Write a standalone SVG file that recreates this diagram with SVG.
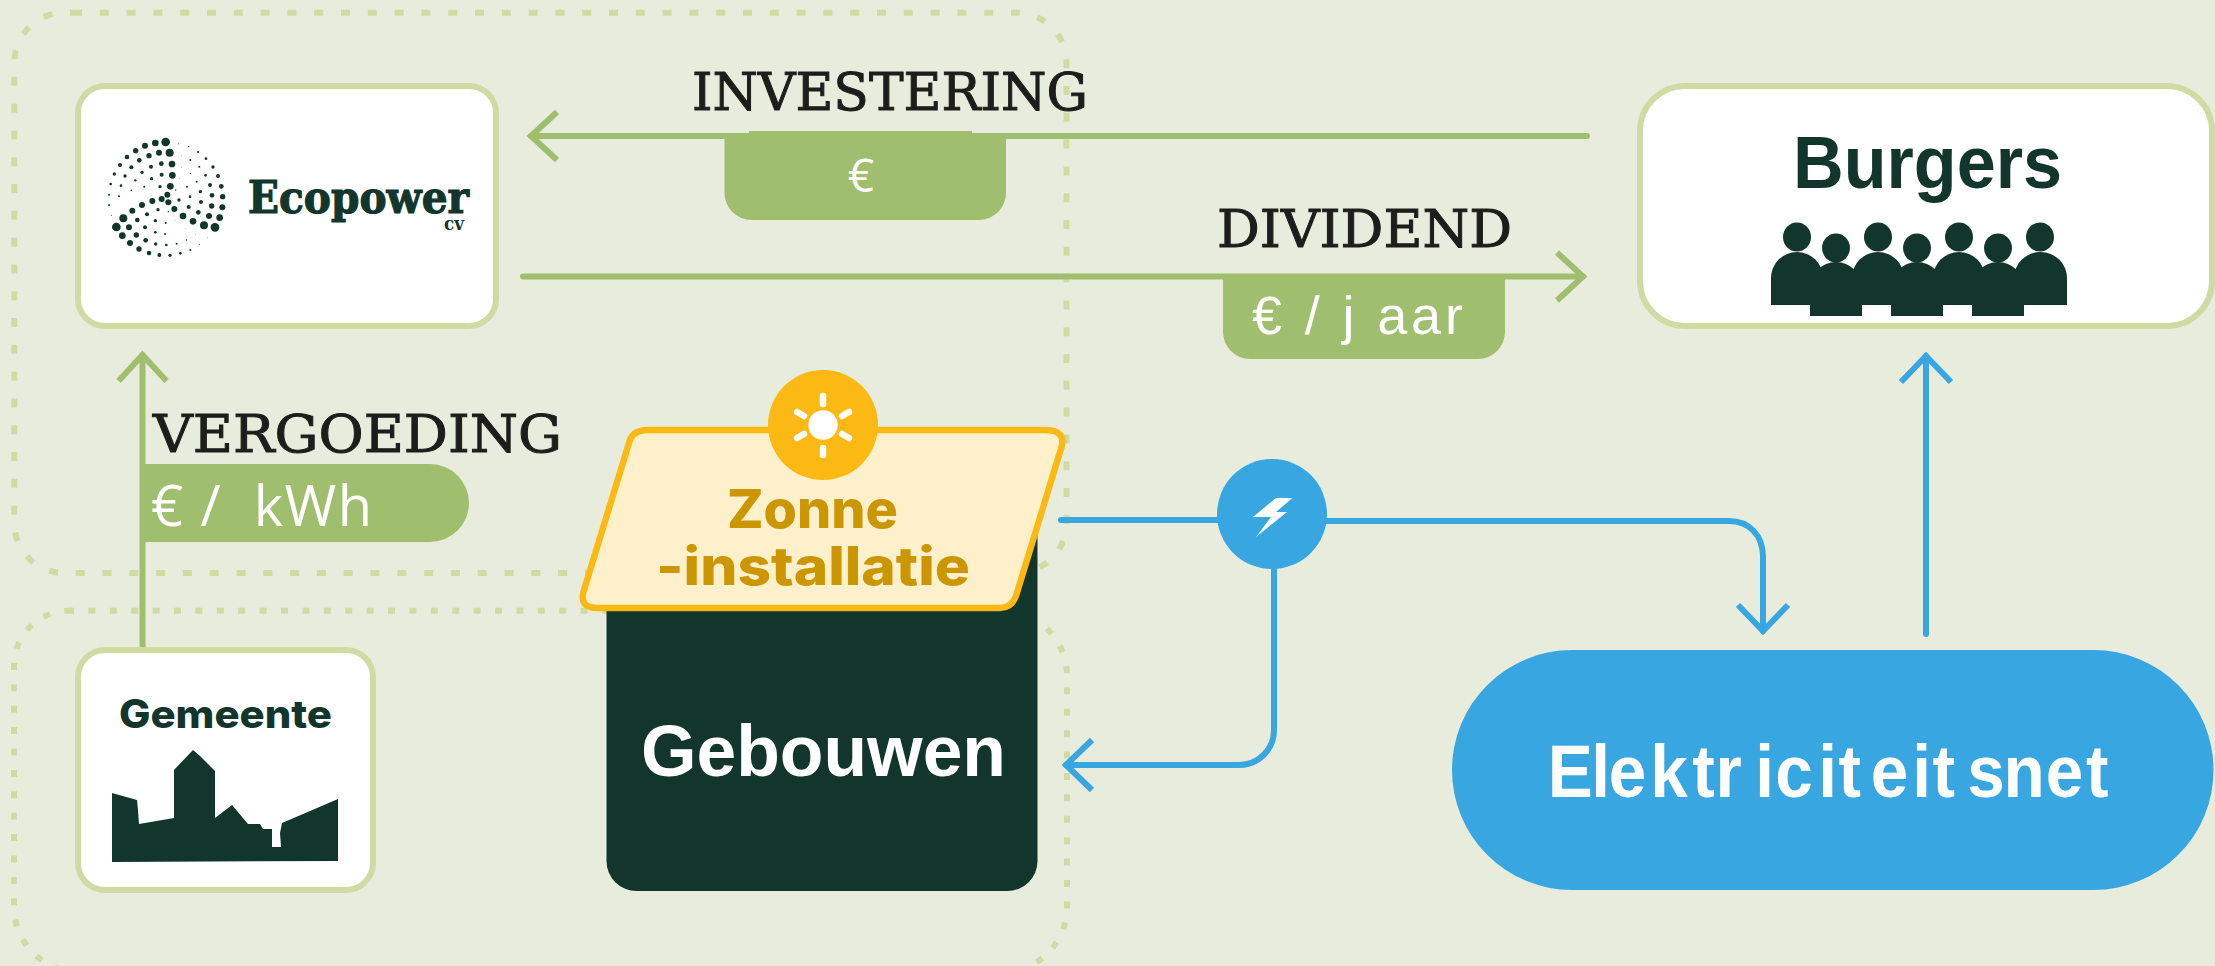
<svg xmlns="http://www.w3.org/2000/svg" width="2215" height="966" viewBox="0 0 2215 966">
<style>
.card{fill:#fff;stroke:#cfdba3;stroke-width:6}
.ink{fill:#12362b}
.slab{font-family:"DejaVu Serif","Liberation Serif",serif;font-size:52px;fill:#1d1d1b;stroke:#1d1d1b;stroke-width:1}
.bold{font-family:"Liberation Sans",Arial,sans-serif;font-weight:700}
.geo{font-family:Inter,"Liberation Sans",sans-serif;font-weight:800}
.price{font-family:"Liberation Sans",Arial,sans-serif;fill:#fff;font-size:54px}
.pill{fill:#9fbf6e}
.green{fill:none;stroke:#9fbf6e;stroke-width:6;stroke-linecap:round}
.blue{fill:none;stroke:#38a6e0;stroke-width:6;stroke-linecap:round}
.ray{stroke:#fff;stroke-width:6.5;stroke-linecap:round}
</style>
<defs>
<marker id="headG" markerUnits="userSpaceOnUse" overflow="visible" markerWidth="40" markerHeight="60" refX="0" refY="0" orient="auto"><path d="M-26,-24L0,0L-26,24" fill="none" stroke="#9fbf6e" stroke-width="6"/></marker>
<marker id="headB" markerUnits="userSpaceOnUse" overflow="visible" markerWidth="40" markerHeight="60" refX="0" refY="0" orient="auto"><path d="M-26,-25L0,0L-26,25" fill="none" stroke="#38a6e0" stroke-width="6"/></marker>
</defs>
<rect width="2215" height="966" fill="#e8ecdd"/>
<g id="groups" fill="none" stroke="#cfdba3" stroke-width="6">
<path id="group-top" stroke-dasharray="9 17.8" d="M73,12.7H1016.5A50,50 0 0 1 1066.5,62.7V523A50,50 0 0 1 1016.5,573H64.3A50,50 0 0 1 14.3,523V62.7A50,50 0 0 1 64.3,12.7Z"/>
<path id="group-bottom" stroke-dasharray="7 14.4" d="M67,610.7H1002A65,65 0 0 1 1067,675.7V907A65,65 0 0 1 1002,972H79A65,65 0 0 1 14,907V665.7A55,55 0 0 1 69,610.7Z"/>
</g>
<g id="connectors">
<path class="green" marker-end="url(#headG)" d="M1587,136H531"/>
<path class="green" marker-end="url(#headG)" d="M523,276.5H1583"/>
<path class="green" marker-end="url(#headG)" d="M142.5,650V355"/>
<path class="blue" d="M1061,520H1272"/>
<path class="blue" marker-end="url(#headB)" d="M1272,521H1729C1749,521 1763,535 1763,557V631"/>
<path class="blue" marker-end="url(#headB)" d="M1274,514V730C1274,750 1258,765 1239,765H1066"/>
<path class="blue" marker-end="url(#headB)" d="M1926,634V356"/>
</g>
<g id="ecopower">
<rect class="card" x="78" y="86" width="418" height="240" rx="27"/>
<g class="ink" transform="translate(100,120) scale(.3333)">
<circle cx="197" cy="66" r="13"/><circle cx="166" cy="69" r="10"/><circle cx="135" cy="77" r="9"/><circle cx="107" cy="92" r="8"/><circle cx="81" cy="111" r="7"/><circle cx="60" cy="135" r="6"/><circle cx="43" cy="162" r="5"/><circle cx="32" cy="192" r="4"/><circle cx="27" cy="224" r="3"/><circle cx="27" cy="255" r="3"/><circle cx="34" cy="286" r="1.5"/>
<circle cx="209" cy="98" r="12"/><circle cx="177" cy="98" r="9"/><circle cx="147" cy="107" r="8"/><circle cx="118" cy="121" r="7"/><circle cx="94" cy="142" r="6"/><circle cx="75" cy="168" r="5"/><circle cx="63" cy="197" r="4"/><circle cx="57" cy="229" r="3"/>
<circle cx="216" cy="132" r="10"/><circle cx="184" cy="131" r="7"/><circle cx="153" cy="140" r="6"/><circle cx="126" cy="157" r="5"/><circle cx="106" cy="181" r="3.5"/><circle cx="94" cy="211" r="2.5"/>
<circle cx="217" cy="166" r="10"/><circle cx="185" cy="164" r="6"/><circle cx="155" cy="176" r="5"/><circle cx="133" cy="200" r="3"/>
<circle cx="211" cy="199" r="10"/><circle cx="180" cy="200" r="5"/><circle cx="202" cy="224" r="9"/><circle cx="185" cy="237" r="9"/><circle cx="205" cy="247" r="9"/><circle cx="157" cy="243" r="9"/><circle cx="126" cy="255" r="9"/><circle cx="97" cy="272" r="9"/><circle cx="70" cy="295" r="12"/><circle cx="49" cy="321" r="13"/>
<circle cx="237" cy="240" r="5"/><circle cx="223" cy="267" r="9"/><circle cx="174" cy="269" r="5"/><circle cx="141" cy="283" r="6"/><circle cx="112" cy="300" r="7"/><circle cx="87" cy="322" r="9"/><circle cx="67" cy="347" r="10"/><circle cx="90" cy="369" r="9"/><circle cx="109" cy="345" r="8"/><circle cx="135" cy="322" r="6"/><circle cx="166" cy="302" r="5"/><circle cx="197" cy="309" r="3"/><circle cx="166" cy="337" r="4"/><circle cx="195" cy="342" r="3"/><circle cx="137" cy="361" r="7"/><circle cx="117" cy="387" r="8"/><circle cx="147" cy="399" r="7"/><circle cx="178" cy="405" r="6"/><circle cx="210" cy="406" r="5"/><circle cx="241" cy="400" r="4"/><circle cx="271" cy="390" r="3"/><circle cx="167" cy="372" r="5"/><circle cx="199" cy="375" r="4"/><circle cx="230" cy="371" r="3"/><circle cx="260" cy="360" r="2"/><circle cx="298" cy="373" r="1.5"/><circle cx="322" cy="352" r="1"/><circle cx="286" cy="343" r="1"/><circle cx="255" cy="325" r="1"/>
<circle cx="249" cy="288" r="10"/><circle cx="279" cy="304" r="10"/><circle cx="312" cy="316" r="12"/><circle cx="345" cy="322" r="13"/><circle cx="359" cy="293" r="10"/><circle cx="327" cy="288" r="9"/><circle cx="295" cy="277" r="7"/><circle cx="266" cy="261" r="6"/><circle cx="303" cy="246" r="6"/><circle cx="335" cy="258" r="8"/><circle cx="367" cy="262" r="9"/><circle cx="368" cy="230" r="8"/><circle cx="336" cy="226" r="7"/><circle cx="301" cy="215" r="5"/><circle cx="270" cy="230" r="4"/><circle cx="330" cy="195" r="6"/><circle cx="364" cy="199" r="7"/><circle cx="354" cy="168" r="6"/><circle cx="317" cy="166" r="4"/><circle cx="290" cy="185" r="3"/><circle cx="261" cy="200" r="3"/><circle cx="339" cy="141" r="5"/><circle cx="298" cy="140" r="3"/><circle cx="318" cy="116" r="4"/><circle cx="271" cy="120" r="3"/><circle cx="294" cy="96" r="3"/><circle cx="266" cy="80" r="2"/><circle cx="236" cy="71" r="1.5"/><circle cx="271" cy="160" r="2"/><circle cx="244" cy="106" r="1"/><circle cx="245" cy="142" r="1"/><circle cx="238" cy="176" r="1"/><circle cx="227" cy="210" r="2"/><circle cx="225" cy="302" r="1"/><circle cx="205" cy="275" r="2"/>
</g>
<text x="248" y="213" font-family="'DejaVu Serif',serif" font-weight="700" font-size="44" fill="#12362b" stroke="#12362b" stroke-width="1.2" textLength="221" lengthAdjust="spacingAndGlyphs">Ecopower</text>
<text x="444" y="230" font-family="'DejaVu Serif',serif" font-weight="700" font-size="18" fill="#12362b" textLength="20" lengthAdjust="spacingAndGlyphs">cv</text>
</g>
<g id="gemeente">
<rect class="card" x="78" y="650" width="295" height="240" rx="27"/>
<text class="geo" x="119" y="728" font-size="39" fill="#12362b" textLength="213" lengthAdjust="spacingAndGlyphs">Gemeente</text>
<path class="ink" d="M112,793L137,800L138,810L139,824L174,818V770L193,750L200,756L215,771V818L232,805L248,824H260L263,829H272V847H281L280,833L282,823L338,799V861L112,862Z"/>
</g>
<g id="burgers">
<rect class="card" x="1640" y="86" width="572" height="240" rx="45"/>
<text class="bold" x="1793" y="188" font-size="75" fill="#12362b" textLength="269" lengthAdjust="spacingAndGlyphs">Burgers</text>
<g class="ink">
<ellipse cx="1797" cy="237" rx="14" ry="14.5"/><ellipse cx="1878" cy="237" rx="14" ry="14.5"/><ellipse cx="1959" cy="237" rx="14" ry="14.5"/><ellipse cx="2040" cy="237" rx="14" ry="14.5"/>
<ellipse cx="1836" cy="248" rx="14" ry="14.5"/><ellipse cx="1917" cy="248" rx="14" ry="14.5"/><ellipse cx="1998" cy="248" rx="14" ry="14.5"/>
<path d="M1771,305V278A26,26 0 0 1 1823,278V305Z"/><path d="M1852,305V278A26,26 0 0 1 1904,278V305Z"/><path d="M1933,305V278A26,26 0 0 1 1985,278V305Z"/><path d="M2014,305V278A26.500,26 0 0 1 2067,278V305Z"/>
<path d="M1810,316V288A26,26 0 0 1 1862,288V316Z"/><path d="M1891,316V288A26,26 0 0 1 1943,288V316Z"/><path d="M1972,316V288A26,26 0 0 1 2024,288V316Z"/>
</g>
</g>
<g id="gebouwen">
<path class="ink" d="M606.500,535H1037.500V861A30,30 0 0 1 1007.500,891H636.500A30,30 0 0 1 606.500,861Z"/>
<text class="bold" x="641" y="776" font-size="73" fill="#fff" textLength="365" lengthAdjust="spacingAndGlyphs">Gebouwen</text>
</g>
<g id="zonne-installatie">
<path d="M648,430H1045Q1066,430 1061.500,447L1016,596Q1011.500,608 1000,608H598Q578,608 584,590L629,443Q632,430 648,430Z" fill="#fef0cb" stroke="#fcb813" stroke-width="6.400"/>
<circle cx="823" cy="425" r="55" fill="#fcb813"/>
<circle cx="823" cy="425" r="14.700" fill="#fff"/>
<path class="ray" d="M823,396V404M823,448V455M797,412L804,416M849,412L842,416M797,438L804,434M849,438L842,434"/>
<text class="geo" x="727" y="528" font-size="53" fill="#cc9600" textLength="171" lengthAdjust="spacingAndGlyphs">Zonne</text>
<text class="geo" x="656" y="585" font-size="53" fill="#cc9600" textLength="314" lengthAdjust="spacingAndGlyphs">-installatie</text>
</g>
<g id="elektriciteitsnet">
<rect x="1452" y="650" width="761.500" height="240" rx="120" fill="#38a6e0"/>
<text class="bold" transform="scale(.9,1)" y="797" font-size="75" fill="#fff" x="1719.7 1768 1787.6 1833.6 1880.2 1906.1 1950.2 1972.6 2020.2 2042.9 2078.7 2124.7 2147.3 2185.8 2226.1 2273.1 2317.9">Elektriciteitsnet</text>
</g>
<g id="junction">
<circle cx="1272" cy="514" r="55" fill="#38a6e0"/>
<path d="M1276,498H1292.500L1276,512H1287L1256,537L1271,517H1253Z" fill="#fff"/>
</g>
<g id="label-investering">
<text class="slab" x="692" y="110" textLength="396" lengthAdjust="spacingAndGlyphs">INVESTERING</text>
<path class="pill" d="M749,131H972V133H1006V193A27,27 0 0 1 979,220H751.500A27,27 0 0 1 724.500,193V133H749Z"/>
<text x="861" y="192" text-anchor="middle" font-family="'Open Sans',sans-serif" font-size="46" fill="#fff">€</text>
</g>
<g id="label-dividend">
<text class="slab" x="1217" y="247" textLength="295" lengthAdjust="spacingAndGlyphs">DIVIDEND</text>
<path class="pill" d="M1223,276H1505V332A27,27 0 0 1 1478,359H1250A27,27 0 0 1 1223,332Z"/>
<text class="price" x="1252" y="334" textLength="211" lengthAdjust="spacing" xml:space="preserve">€ / j aar</text>
</g>
<g id="label-vergoeding">
<text class="slab" x="153" y="452" textLength="409" lengthAdjust="spacingAndGlyphs">VERGOEDING</text>
<path class="pill" d="M145,464H430A39,39 0 0 1 430,542H145Z"/>
<text x="151" y="526" font-family="'Open Sans',sans-serif" font-size="56" fill="#fff" textLength="221" lengthAdjust="spacing" xml:space="preserve">€ /  kWh</text>
</g>
</svg>
